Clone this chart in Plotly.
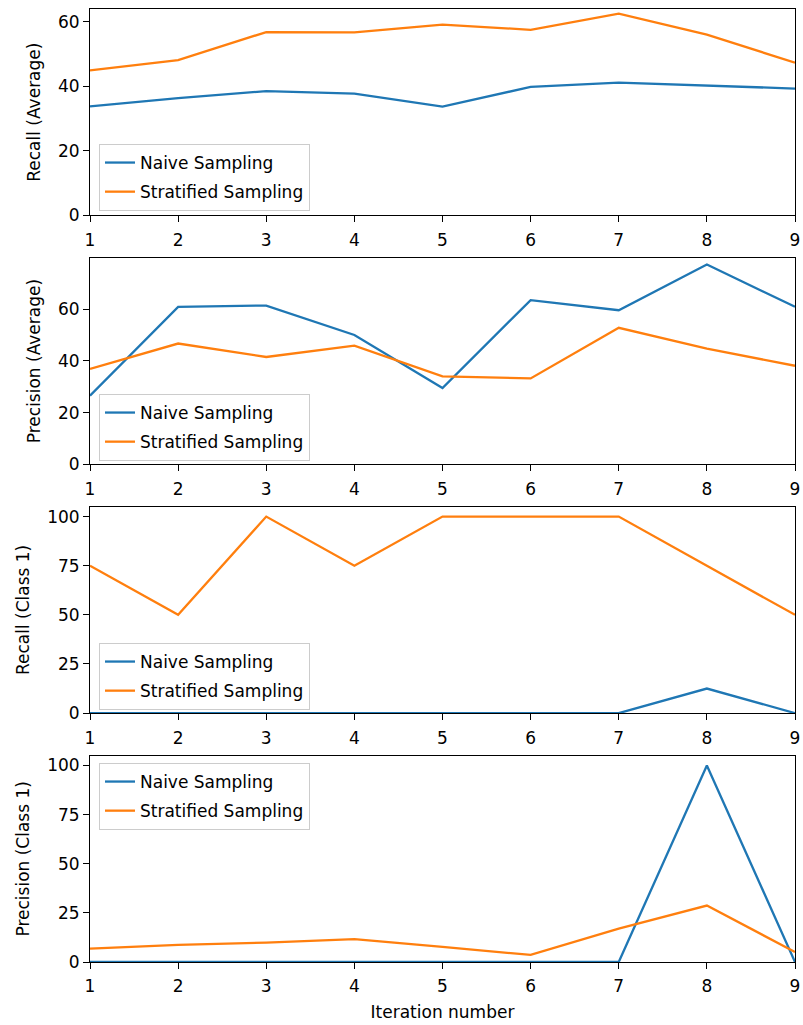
import plotly.graph_objects as go
from plotly.subplots import make_subplots

# Iterations on the x axis
iterations = [1, 2, 3, 4, 5, 6, 7, 8, 9]

# Recall (Average)
recall_avg_naive = [33.8, 36.3, 38.5, 37.7, 33.7, 39.8, 41.1, 40.3, 39.3]
recall_avg_strat = [44.9, 48.1, 56.8, 56.7, 59.1, 57.5, 62.5, 56.0, 47.3]

# Precision (Average)
prec_avg_naive = [26.5, 60.9, 61.4, 50.0, 29.5, 63.5, 59.6, 77.3, 60.9]
prec_avg_strat = [36.9, 46.7, 41.5, 45.9, 34.0, 33.2, 52.8, 44.7, 38.1]

# Recall (Class 1)
recall_c1_naive = [0, 0, 0, 0, 0, 0, 0, 12.5, 0]
recall_c1_strat = [75, 50, 100, 75, 100, 100, 100, 75, 50]

# Precision (Class 1)
prec_c1_naive = [0, 0, 0, 0, 0, 0, 0, 100, 0]
prec_c1_strat = [6.8, 8.7, 9.9, 11.6, 7.7, 3.6, 17.0, 28.7, 5.1]

series_names = ["Naive Sampling", "Stratified Sampling"]
y_titles = ["Recall (Average)", "Precision (Average)", "Recall (Class 1)", "Precision (Class 1)"]
y_dticks = [20, 20, 25, 25]
panels = [
    (recall_avg_naive, recall_avg_strat),
    (prec_avg_naive, prec_avg_strat),
    (recall_c1_naive, recall_c1_strat),
    (prec_c1_naive, prec_c1_strat),
]

BLUE = "#1f77b4"
ORANGE = "#ff7f0e"
FONT = "DejaVu Sans"
FS = 17

W, H = 803, 1025
ML, MR, MT, MB = 90, 8, 9, 63
plot_h = H - MT - MB
plot_w = W - ML - MR
gap_px = 42.5

fig = make_subplots(rows=4, cols=1, vertical_spacing=gap_px / plot_h)

# legend top edges (px from top) per panel
legend_tops_px = [144, 394, 643, 763]

for i, (naive, strat) in enumerate(panels):
    row = i + 1
    leg = "legend" if i == 0 else f"legend{row}"
    for name, vals, color in ((series_names[0], naive, BLUE), (series_names[1], strat, ORANGE)):
        fig.add_trace(
            go.Scatter(
                x=iterations, y=vals, mode="lines", name=name,
                line=dict(color=color, width=2.3),
                legend=leg, legendgroup=f"{leg}-{name}",
            ),
            row=row, col=1,
        )
    # y range: start at zero, 5% headroom above data
    lo = min(min(naive), min(strat))
    hi = max(max(naive), max(strat))
    top = hi + 0.05 * (hi - lo)
    fig.update_yaxes(
        range=[0, top], dtick=y_dticks[i], tick0=0,
        title=dict(text=y_titles[i], standoff=13, font=dict(size=FS, color="black")),
        row=row, col=1,
    )
    fig.update_xaxes(range=[1, 9], dtick=1, tick0=1, row=row, col=1)

    leg_cfg = dict(
        x=(99 - ML) / plot_w, y=(H - MB - legend_tops_px[i]) / plot_h,
        xanchor="left", yanchor="top",
        bgcolor="rgba(255,255,255,0.8)", bordercolor="#cccccc", borderwidth=1,
        font=dict(family=FONT, size=FS, color="black"),
        tracegroupgap=4, traceorder="grouped", entrywidth=230,
    )
    fig.update_layout({leg: leg_cfg})

axis_style = dict(
    showline=True, linecolor="black", linewidth=1, mirror=True,
    ticks="outside", ticklen=6, tickwidth=1, tickcolor="black",
    showgrid=False, zeroline=False,
    tickfont=dict(family=FONT, size=FS, color="black"),
)
fig.update_xaxes(**axis_style, automargin=False, ticklabelstandoff=3)
fig.update_yaxes(**axis_style)
fig.update_xaxes(title=dict(text="Iteration number", standoff=10, font=dict(size=FS, color="black")), row=4, col=1)

fig.update_layout(
    width=W, height=H,
    margin=dict(l=ML, r=MR, t=MT, b=MB, pad=0),
    paper_bgcolor="white", plot_bgcolor="white",
    font=dict(family=FONT, size=FS, color="black"),
    showlegend=True,
)

fig.write_html("out.html")
